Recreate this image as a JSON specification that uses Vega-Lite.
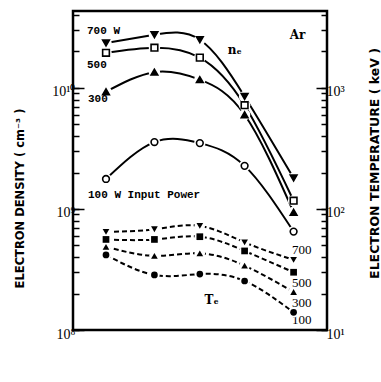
{
  "$schema": "https://vega.github.io/schema/vega-lite/v6.json",
  "width": 254,
  "height": 319,
  "autosize": {"type": "none"},
  "padding": {"left": 73, "top": 11, "right": 54, "bottom": 52},
  "background": "white",
  "config": {
    "view": {"stroke": "black", "strokeWidth": 2.5},
    "axis": {"domain": false, "grid": false, "tickColor": "black", "tickWidth": 1.5, "labelColor": "black", "titleColor": "black", "labelFont": "Liberation Serif", "labelFontSize": 14, "titleFont": "DejaVu Sans", "titleFontWeight": "bold", "titleFontSize": 12.5, "gridColor": "black", "gridWidth": 1.5, "gridDash": [11, 2000]}
  },
  "datasets": {
    "pts": [
      {"p": 1.466e-5, "power": 700, "ne": 2.35e10, "te": 64.6},
      {"p": 2.57e-5, "power": 700, "ne": 2.75e10, "te": 68},
      {"p": 4.35e-5, "power": 700, "ne": 2.5e10, "te": 72.5},
      {"p": 7.31e-5, "power": 700, "ne": 8.5e9, "te": 53},
      {"p": 1.29e-4, "power": 700, "ne": 1.8e9, "te": 38},
      {"p": 1.466e-5, "power": 500, "ne": 1.95e10, "te": 56},
      {"p": 2.57e-5, "power": 500, "ne": 2.15e10, "te": 56},
      {"p": 4.35e-5, "power": 500, "ne": 1.78e10, "te": 59},
      {"p": 7.31e-5, "power": 500, "ne": 7.2e9, "te": 45},
      {"p": 1.29e-4, "power": 500, "ne": 1.17e9, "te": 30},
      {"p": 1.466e-5, "power": 300, "ne": 9.3e9, "te": 48.7},
      {"p": 2.57e-5, "power": 300, "ne": 1.35e10, "te": 41},
      {"p": 4.35e-5, "power": 300, "ne": 1.17e10, "te": 43},
      {"p": 7.31e-5, "power": 300, "ne": 6.0e9, "te": 34},
      {"p": 1.29e-4, "power": 300, "ne": 9.4e8, "te": 20.6},
      {"p": 1.466e-5, "power": 100, "ne": 1.77e9, "te": 41.7},
      {"p": 2.57e-5, "power": 100, "ne": 3.57e9, "te": 28.5},
      {"p": 4.35e-5, "power": 100, "ne": 3.5e9, "te": 29},
      {"p": 7.31e-5, "power": 100, "ne": 2.27e9, "te": 25.4},
      {"p": 1.29e-4, "power": 100, "ne": 6.5e8, "te": 14}
    ],
    "notesLeft": [
      {"p": 1.176e-5, "ne": 2.96e10, "t": "700 W"},
      {"p": 1.176e-5, "ne": 1.55e10, "t": "500"},
      {"p": 1.19e-5, "ne": 8.1e9, "t": "300"},
      {"p": 1.19e-5, "ne": 1.31e9, "t": "100 W  Input Power"}
    ],
    "notesRight": [
      {"p": 1.416e-4, "ne": 4.58e8, "t": "700"},
      {"p": 1.416e-4, "ne": 2.44e8, "t": "500"},
      {"p": 1.416e-4, "ne": 1.67e8, "t": "300"},
      {"p": 1.416e-4, "ne": 1.21e8, "t": "100"}
    ],
    "notesSym": [
      {"p": 6.52e-5, "ne": 2.06e10, "t": "nₑ"},
      {"p": 1.35e-4, "ne": 2.74e10, "t": "Ar"},
      {"p": 4.99e-5, "ne": 1.77e8, "t": "Tₑ"}
    ]
  },
  "layer": [
    {
      "data": {"name": "pts"},
      "layer": [
        {
          "mark": {"type": "line", "interpolate": "natural", "color": "black", "strokeWidth": 2},
          "encoding": {
            "x": {"field": "p", "type": "quantitative", "scale": {"type": "log", "domain": [1e-5, 1.9e-4], "nice": false},
              "axis": {"orient": "bottom", "values": [1e-5, 2e-5, 3e-5, 4e-5, 5e-5, 6e-5, 7e-5, 8e-5, 9e-5, 1e-4, 1.9e-4],
                "labelExpr": "datum.value < 1.5e-5 ? ['', '10⁻⁵'] : datum.value < 2.5e-5 ? '2' : (datum.value > 4.5e-5 && datum.value < 5.5e-5) ? '5' : (datum.value > 9.5e-5 && datum.value < 1.5e-4) ? ['', '10⁻⁴'] : datum.value > 1.5e-4 ? '2' : ''",
                "tickSize": -8,
                "grid": true,
                "gridDash": [7, 305, 7, 2000],
                "labelPadding": 11, "labelLineHeight": 11,
                "labelFontSize": 13, "labelFontWeight": "bold", "labelFlush": false, "labelOverlap": false,
                "title": "GAS PRESSURE  ( Torr )", "titleFontSize": 13.5, "titleX": 138, "titleY": 49, "titleAlign": "center", "titleBaseline": "alphabetic"}},
            "y": {"field": "ne", "type": "quantitative", "scale": {"type": "log", "domain": [1e8, 4.32e10], "nice": false},
              "axis": {"orient": "left", "values": [1e8, 2e8, 3e8, 4e8, 5e8, 6e8, 7e8, 8e8, 9e8, 1e9, 2e9, 3e9, 4e9, 5e9, 6e9, 7e9, 8e9, 9e9, 1e10, 2e10, 3e10, 4e10],
                "labelExpr": "abs(log(datum.value)/LN10 - 8) < 0.01 ? '10⁸' : abs(log(datum.value)/LN10 - 9) < 0.01 ? '10⁹' : abs(log(datum.value)/LN10 - 10) < 0.01 ? '10¹⁰' : ''",
                "tickSize": -6,
                "grid": true,
                "gridOpacity": {"condition": {"test": "abs(log(datum.value)/LN10 - round(log(datum.value)/LN10)) < 0.01", "value": 1}, "value": 0},
                "labelPadding": 4, "labelOffset": 4, "labelFlush": false, "labelOverlap": false,
                "title": "ELECTRON DENSITY  ( cm⁻³ )", "titleFontSize": 11.5, "titleAngle": 270, "titleX": -53, "titleY": 187, "titleAlign": "center", "titleBaseline": "middle"}},
            "detail": {"field": "power"}
          }
        },
        {
          "mark": {"type": "point", "filled": true, "shape": "circle", "size": 130, "color": "white", "opacity": 1},
          "encoding": {
            "x": {"field": "p", "type": "quantitative", "axis": null},
            "y": {"field": "ne", "type": "quantitative"}
          }
        },
        {
          "mark": {"type": "point", "size": 45, "stroke": "black", "strokeWidth": 1.6, "opacity": 1},
          "encoding": {
            "x": {"field": "p", "type": "quantitative", "axis": null},
            "y": {"field": "ne", "type": "quantitative"},
            "shape": {"field": "power", "type": "nominal", "scale": {"domain": [700, 500, 300, 100], "range": ["triangle-down", "square", "triangle-up", "circle"]}, "legend": null},
            "fill": {"condition": {"test": "datum.power == 500 || datum.power == 100", "value": "white"}, "value": "black"}
          }
        },
        {
          "data": {"name": "notesLeft"},
          "mark": {"type": "text", "font": "Liberation Mono", "fontWeight": "bold", "fontSize": 11, "align": "left", "baseline": "middle", "color": "black"},
          "encoding": {
            "x": {"field": "p", "type": "quantitative", "axis": null},
            "y": {"field": "ne", "type": "quantitative"},
            "text": {"field": "t"}
          }
        },
        {
          "data": {"name": "notesRight"},
          "mark": {"type": "text", "font": "Liberation Serif", "fontSize": 13, "align": "center", "baseline": "middle", "color": "black"},
          "encoding": {
            "x": {"field": "p", "type": "quantitative", "axis": null},
            "y": {"field": "ne", "type": "quantitative"},
            "text": {"field": "t"}
          }
        },
        {
          "data": {"name": "notesSym"},
          "mark": {"type": "text", "font": "DejaVu Serif", "fontWeight": "bold", "fontSize": 12, "align": "center", "baseline": "middle", "color": "black"},
          "encoding": {
            "x": {"field": "p", "type": "quantitative", "axis": null},
            "y": {"field": "ne", "type": "quantitative"},
            "text": {"field": "t"}
          }
        }
      ]
    },
    {
      "data": {"name": "pts"},
      "layer": [
        {
          "mark": {"type": "line", "interpolate": "natural", "color": "black", "strokeWidth": 2, "strokeDash": [5, 3]},
          "encoding": {
            "x": {"field": "p", "type": "quantitative", "axis": null},
            "y": {"field": "te", "type": "quantitative", "scale": {"type": "log", "domain": [10, 4320], "nice": false},
              "axis": {"orient": "right", "values": [10, 20, 30, 40, 50, 60, 70, 80, 90, 100, 200, 300, 400, 500, 600, 700, 800, 900, 1000, 2000, 3000, 4000],
                "labelExpr": "abs(log(datum.value)/LN10 - 1) < 0.01 ? '10¹' : abs(log(datum.value)/LN10 - 2) < 0.01 ? '10²' : abs(log(datum.value)/LN10 - 3) < 0.01 ? '10³' : ''",
                "tickSize": -6,
                "grid": true,
                "gridOpacity": {"condition": {"test": "abs(log(datum.value)/LN10 - round(log(datum.value)/LN10)) < 0.01", "value": 1}, "value": 0},
                "labelPadding": 5, "labelOffset": 4, "labelFlush": false, "labelOverlap": false,
                "title": "ELECTRON TEMPERATURE  ( keV )", "titleFontSize": 12.5, "titleAngle": 270, "titleX": 47, "titleY": 152, "titleAlign": "center", "titleBaseline": "middle"}},
            "detail": {"field": "power"}
          }
        },
        {
          "mark": {"type": "point", "filled": true, "shape": "circle", "size": 110, "color": "white", "opacity": 1},
          "encoding": {
            "x": {"field": "p", "type": "quantitative", "axis": null},
            "y": {"field": "te", "type": "quantitative"}
          }
        },
        {
          "mark": {"type": "point", "size": 45, "filled": true, "color": "black", "opacity": 1},
          "encoding": {
            "x": {"field": "p", "type": "quantitative", "axis": null},
            "y": {"field": "te", "type": "quantitative"},
            "shape": {"field": "power", "type": "nominal", "scale": {"domain": [700, 500, 300, 100], "range": ["triangle-down", "square", "triangle-up", "circle"]}, "legend": null}
          }
        }
      ]
    }
  ],
  "resolve": {"scale": {"y": "independent"}}
}
